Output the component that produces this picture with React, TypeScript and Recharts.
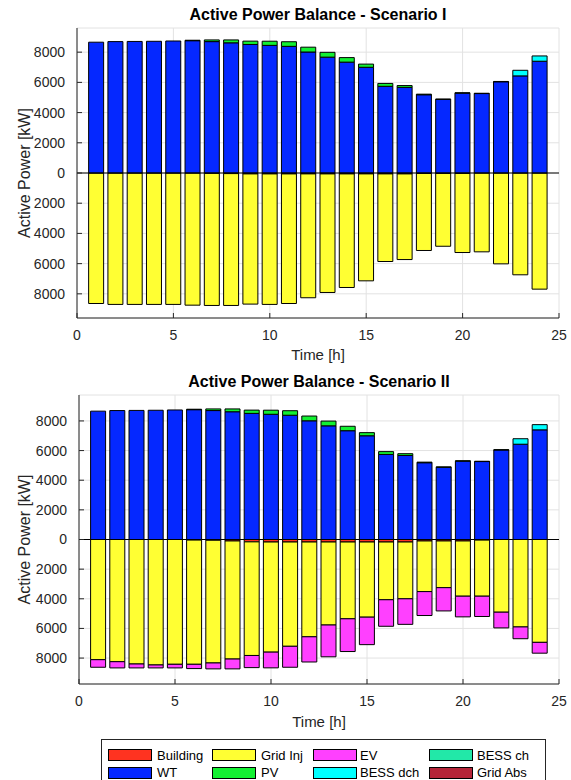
import { BarChart, Bar, XAxis, YAxis, CartesianGrid, ReferenceLine } from 'recharts';

const hours = [1, 2, 3, 4, 5, 6, 7, 8, 9, 10, 11, 12, 13, 14, 15, 16, 17, 18, 19, 20, 21, 22, 23, 24];
const xTicks = [0, 5, 10, 15, 20, 25];
const yTicks = [-8000, -6000, -4000, -2000, 0, 2000, 4000, 6000, 8000];

// generation side (same in both scenarios)
const wt = [8660, 8700, 8710, 8720, 8740, 8760, 8700, 8620, 8510, 8450, 8385, 8010, 7670, 7340, 7000, 5740, 5670, 5180, 4870, 5290, 5260, 6040, 6430, 7400];
const pv = [0, 0, 0, 0, 0, 30, 110, 190, 220, 275, 305, 320, 320, 300, 210, 190, 120, 40, 30, 20, 20, 20, 0, 0];
const bessDch = [0, 0, 0, 0, 0, 0, 0, 0, 0, 0, 0, 0, 0, 0, 0, 0, 0, 0, 0, 0, 0, 0, 370, 350];
const bessCh = [0, 0, 0, 0, 0, 0, 0, 0, 0, 0, 0, 0, 0, 0, 0, 0, 0, 0, 0, 0, 0, 0, 0, 0];
const gridAbs = [0, 0, 0, 0, 0, 0, 0, 0, 0, 0, 0, 0, 0, 0, 0, 0, 0, 0, 0, 0, 0, 0, 0, 0];

// Scenario I consumption (kW, drawn downwards)
const building1 = [0, 0, 0, 0, 0, 0, 20, 40, 60, 60, 60, 60, 60, 60, 60, 60, 60, 30, 30, 30, 0, 0, 0, 0];
const gridInj1 = [8640, 8700, 8700, 8700, 8700, 8750, 8750, 8730, 8620, 8640, 8580, 8200, 7850, 7520, 7080, 5800, 5670, 5100, 4820, 5235, 5220, 6015, 6740, 7690];
const ev1 = [0, 0, 0, 0, 0, 0, 0, 0, 0, 0, 0, 0, 0, 0, 0, 0, 0, 0, 0, 0, 0, 0, 0, 0];

// Scenario II consumption
const building2 = [0, 0, 0, 0, 0, 40, 50, 100, 160, 170, 170, 170, 170, 170, 170, 170, 170, 100, 100, 100, 40, 0, 0, 0];
const gridInj2 = [8110, 8245, 8400, 8465, 8420, 8380, 8280, 7965, 7665, 7430, 7035, 6395, 5600, 5180, 5070, 3895, 3830, 3415, 3150, 3725, 3785, 4905, 5900, 6940];
const ev2 = [510, 420, 265, 200, 245, 290, 400, 665, 820, 1060, 1415, 1700, 2145, 2210, 1855, 1790, 1725, 1615, 1570, 1395, 1370, 1060, 795, 730];

const series = [
  { key: 'building', name: 'Building', color: '#FF3320' },
  { key: 'gridInj', name: 'Grid Inj', color: '#FFFF33' },
  { key: 'ev', name: 'EV', color: '#FF40FF' },
  { key: 'wt', name: 'WT', color: '#0528FF' },
  { key: 'pv', name: 'PV', color: '#12F032' },
  { key: 'bessDch', name: 'BESS dch', color: '#00FFFF' },
  { key: 'bessCh', name: 'BESS ch', color: '#22E8A8' },
  { key: 'gridAbs', name: 'Grid Abs', color: '#B52438' },
];

const legendRows = [
  ['building', 'gridInj', 'ev', 'bessCh'],
  ['wt', 'pv', 'bessDch', 'gridAbs'],
];
const legendSwatchX = [108, 212, 313, 429];
const legendTextX = [157, 261, 360, 477];

const buildData = (building: number[], gridInj: number[], ev: number[]) =>
  hours.map((h, i) => ({
    hour: h,
    building: -building[i],
    gridInj: -gridInj[i],
    ev: -ev[i],
    wt: wt[i],
    pv: pv[i],
    bessDch: bessDch[i],
    bessCh: bessCh[i],
    gridAbs: gridAbs[i],
  }));

const scenario1 = buildData(building1, gridInj1, ev1);
const scenario2 = buildData(building2, gridInj2, ev2);

const axisColor = '#262626';

function BalanceChart({ data, top, leftWidth, yLimit, title }: any) {
  return (
    <>
      <div
        style={{
          position: 'absolute',
          left: leftWidth,
          width: 559 - leftWidth,
          top: top + 6,
          textAlign: 'center',
          fontWeight: 'bold',
          fontSize: 16,
          lineHeight: '18px',
          color: '#000',
        }}
      >
        {title}
      </div>
      <div style={{ position: 'absolute', left: 0, top }}>
        <BarChart
          width={571}
          height={368}
          data={data}
          stackOffset="sign"
          margin={{ top: 28, right: 12, bottom: 0, left: 0 }}
        >
          <CartesianGrid stroke="#e2e2e2" />
          <XAxis
            dataKey="hour"
            type="number"
            domain={[0, 25]}
            ticks={xTicks}
            height={top === 0 ? 50 : 51}
            stroke={axisColor}
            tickSize={-5}
            tickMargin={17}
            tick={{ fill: axisColor, fontSize: 14 }}
            label={{ value: 'Time [h]', position: 'insideBottom', offset: 8, fill: axisColor, fontSize: 15 }}
          />
          <XAxis
            xAxisId="top"
            orientation="top"
            type="number"
            domain={[0, 25]}
            ticks={xTicks}
            height={0}
            stroke={axisColor}
            tickSize={-5}
            tick={false}
          />
          <YAxis
            domain={[-yLimit, yLimit]}
            ticks={yTicks}
            width={leftWidth}
            stroke={axisColor}
            tickSize={-5}
            tickMargin={17}
            tickFormatter={(v: number) => `${Math.abs(v)}`}
            tick={{ fill: axisColor, fontSize: 14 }}
            label={{
              value: 'Active Power [kW]',
              angle: -90,
              position: 'insideLeft',
              offset: 24,
              fill: axisColor,
              fontSize: 16,
              style: { textAnchor: 'middle' },
            }}
          />
          <YAxis
            yAxisId="right"
            orientation="right"
            domain={[-yLimit, yLimit]}
            ticks={yTicks}
            width={0}
            stroke={axisColor}
            tickSize={-5}
            tick={false}
          />
          {series.map((s) => (
            <Bar
              key={s.key}
              dataKey={s.key}
              name={s.name}
              stackId="p"
              fill={s.color}
              stroke="#000"
              strokeWidth={1}
              barSize={15}
              isAnimationActive={false}
            />
          ))}
          <ReferenceLine y={0} stroke="#000" strokeWidth={1} />
        </BarChart>
      </div>
    </>
  );
}

export default function App() {
  const byKey: any = {};
  series.forEach((s) => (byKey[s.key] = s));
  return (
    <div
      style={{
        position: 'absolute',
        left: 0,
        top: 0,
        width: 571,
        height: 780,
        overflow: 'hidden',
        background: '#fff',
        fontFamily: '"Liberation Sans", Arial, sans-serif',
      }}
    >
      <BalanceChart data={scenario1} top={0} leftWidth={77} yLimit={9600} title="Active Power Balance - Scenario I" />
      <BalanceChart data={scenario2} top={367} leftWidth={79} yLimit={9750} title="Active Power Balance - Scenario II" />
      <div
        style={{
          position: 'absolute',
          left: 101,
          top: 739,
          width: 445,
          height: 60,
          border: '1px solid #262626',
          background: '#fff',
          boxSizing: 'border-box',
        }}
      />
      {legendRows.map((row, r) =>
        row.map((k, c) => (
          <div key={k}>
            <div
              style={{
                position: 'absolute',
                left: legendSwatchX[c],
                top: 749 + r * 17.5,
                width: 44,
                height: 12,
                boxSizing: 'border-box',
                border: '1px solid #000',
                background: byKey[k].color,
              }}
            />
            <div
              style={{
                position: 'absolute',
                left: legendTextX[c],
                top: 747.5 + r * 17.5,
                fontSize: 13,
                lineHeight: '16px',
                color: '#000',
                whiteSpace: 'nowrap',
              }}
            >
              {byKey[k].name}
            </div>
          </div>
        ))
      )}
    </div>
  );
}
